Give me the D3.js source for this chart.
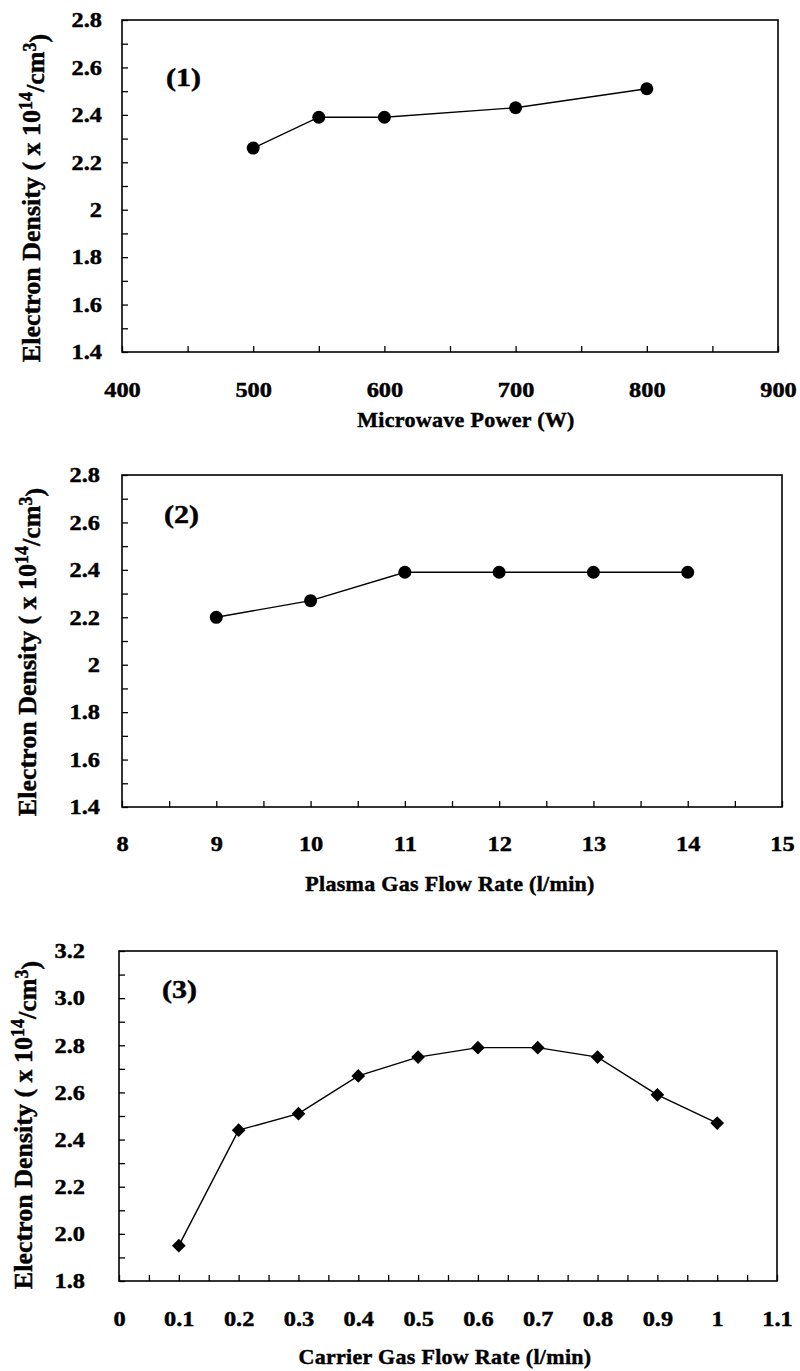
<!DOCTYPE html>
<html>
<head>
<meta charset="utf-8">
<script src="https://cdn.jsdelivr.net/npm/d3@7"></script>
<style>
  html, body { margin: 0; padding: 0; background: #fff; }
  svg { display: block; }
</style>
</head>
<body>
<svg id="chart" width="800" height="1371"></svg>
<script>
// ---------- Data ----------
// Panel (1): Microwave power
const powerX = [500, 550, 600, 700, 800];
const powerY = [2.26, 2.39, 2.39, 2.43, 2.51];
const powerXTicks = ["400", "500", "600", "700", "800", "900"];
const powerYTicks = ["1.4", "1.6", "1.8", "2", "2.2", "2.4", "2.6", "2.8"];

// Panel (2): Plasma gas flow rate
const plasmaX = [9, 10, 11, 12, 13, 14];
const plasmaY = [2.20, 2.27, 2.39, 2.39, 2.39, 2.39];
const plasmaXTicks = ["8", "9", "10", "11", "12", "13", "14", "15"];
const plasmaYTicks = ["1.4", "1.6", "1.8", "2", "2.2", "2.4", "2.6", "2.8"];

// Panel (3): Carrier gas flow rate
const carrierX = [0.1, 0.2, 0.3, 0.4, 0.5, 0.6, 0.7, 0.8, 0.9, 1.0];
const carrierY = [1.95, 2.44, 2.51, 2.67, 2.75, 2.79, 2.79, 2.75, 2.59, 2.47];
const carrierXTicks = ["0", "0.1", "0.2", "0.3", "0.4", "0.5", "0.6", "0.7", "0.8", "0.9", "1", "1.1"];
const carrierYTicks = ["1.8", "2.0", "2.2", "2.4", "2.6", "2.8", "3.0", "3.2"];

const xTitles = ["Microwave Power (W)", "Plasma Gas Flow Rate (l/min)", "Carrier Gas Flow Rate (l/min)"];
const panelLabels = ["(1)", "(2)", "(3)"];

const FONT = '"Liberation Serif", "Times New Roman", Times, serif';
const SX = 1.16; // horizontal stretch of numerals in the original scan

// ---------- Layout ----------
const panels = [
  { xs: powerX, ys: powerY, xt: powerXTicks, yt: powerYTicks, xDom: [400, 900], yDom: [1.4, 2.8],
    xStepMinor: 50, yStepMinor: 0.1, marker: "circle",
    left: 122, right: 778, top: 20, bottom: 352, yPad: 20, xPad: 30,
    ytX: 40, ytY: 198, xtY: 427, xtX: 466, lab: [166, 86] },
  { xs: plasmaX, ys: plasmaY, xt: plasmaXTicks, yt: plasmaYTicks, xDom: [8, 15], yDom: [1.4, 2.8],
    xStepMinor: 0.5, yStepMinor: 0.1, marker: "circle",
    left: 122, right: 782, top: 475, bottom: 807, yPad: 22, xPad: 29,
    ytX: 36, ytY: 652, xtY: 891, xtX: 450, lab: [164, 523] },
  { xs: carrierX, ys: carrierY, xt: carrierXTicks, yt: carrierYTicks, xDom: [0, 1.1], yDom: [1.8, 3.2],
    xStepMinor: 0.05, yStepMinor: 0.1, marker: "diamond",
    left: 119, right: 777, top: 951, bottom: 1281, yPad: 34, xPad: 30,
    ytX: 32, ytY: 1125, xtY: 1364, xtX: 445, lab: [162, 998] }
];

const svg = d3.select("#chart");

function styleText(sel, size) {
  sel.attr("font-family", FONT).attr("font-weight", "bold").attr("font-size", size)
     .attr("fill", "#000").attr("stroke", "#000").attr("stroke-width", 0.45);
  return sel;
}

panels.forEach((p, pi) => {
  const x = d3.scaleLinear().domain(p.xDom).range([p.left, p.right]);
  const y = d3.scaleLinear().domain(p.yDom).range([p.bottom, p.top]);
  const g = svg.append("g");

  const nx = Math.round((p.xDom[1] - p.xDom[0]) / p.xStepMinor);
  const xTickVals = d3.range(0, nx + 1).map(i => p.xDom[0] + i * p.xStepMinor);
  const ny = Math.round((p.yDom[1] - p.yDom[0]) / p.yStepMinor);
  const yTickVals = d3.range(0, ny + 1).map(i => p.yDom[0] + i * p.yStepMinor);

  const xAxis = d3.axisBottom(x)
    .tickValues(xTickVals)
    .tickSize(-6)
    .tickPadding(p.xPad)
    .tickFormat((d, i) => (i % 2 === 0 ? p.xt[i / 2] : ""));
  const yAxis = d3.axisLeft(y)
    .tickValues(yTickVals)
    .tickSize(-6)
    .tickPadding(p.yPad / SX)
    .tickFormat((d, i) => (i % 2 === 0 ? p.yt[i / 2] : ""));

  const gx = g.append("g").attr("transform", `translate(0,${p.bottom})`).call(xAxis);
  const gy = g.append("g").attr("transform", `translate(${p.left},0)`).call(yAxis);
  [gx, gy].forEach(a => {
    a.attr("font-family", FONT);
    a.select(".domain").remove();
    a.selectAll("line").attr("stroke", "#000").attr("stroke-width", 1.3);
    styleText(a.selectAll("text"), 21).attr("transform", `scale(${SX},1)`);
  });

  // frame
  g.append("rect")
    .attr("x", p.left).attr("y", p.top)
    .attr("width", p.right - p.left).attr("height", p.bottom - p.top)
    .attr("fill", "none").attr("stroke", "#000").attr("stroke-width", 1.6);

  // line
  const pts = p.xs.map((v, i) => [v, p.ys[i]]);
  g.append("path")
    .datum(pts)
    .attr("fill", "none").attr("stroke", "#000").attr("stroke-width", 1.4)
    .attr("d", d3.line().x(d => x(d[0])).y(d => y(d[1])));

  // markers
  if (p.marker === "circle") {
    g.selectAll("circle.pt").data(pts).join("circle")
      .attr("class", "pt")
      .attr("cx", d => x(d[0])).attr("cy", d => y(d[1])).attr("r", 6.5)
      .attr("fill", "#000");
  } else {
    const sym = d3.symbol().type(d3.symbolDiamond2).size(120);
    g.selectAll("path.pt").data(pts).join("path")
      .attr("class", "pt")
      .attr("transform", d => `translate(${x(d[0])},${y(d[1])})`)
      .attr("d", sym)
      .attr("fill", "#000");
  }

  // panel label
  styleText(g.append("text"), 25)
    .attr("transform", `translate(${p.lab[0]},${p.lab[1]}) scale(1.2,1)`)
    .text(panelLabels[pi]);

  // x title
  styleText(g.append("text"), 22).attr("x", p.xtX).attr("y", p.xtY).attr("text-anchor", "middle")
    .attr("letter-spacing", "0.3px").text(xTitles[pi]);

  // y title (rotated)
  const yt = styleText(g.append("text"), 26)
    .attr("transform", `translate(${p.ytX},${p.ytY}) rotate(-90)`)
    .attr("text-anchor", "middle");
  yt.append("tspan").text("Electron Density ( x 10");
  yt.append("tspan").attr("dy", "-0.45em").attr("font-size", 18).text("14");
  yt.append("tspan").attr("dy", "0.45em").text("/cm");
  yt.append("tspan").attr("dy", "-0.45em").attr("font-size", 18).text("3");
  yt.append("tspan").attr("dy", "0.45em").text(")");
});
</script>
</body>
</html>
